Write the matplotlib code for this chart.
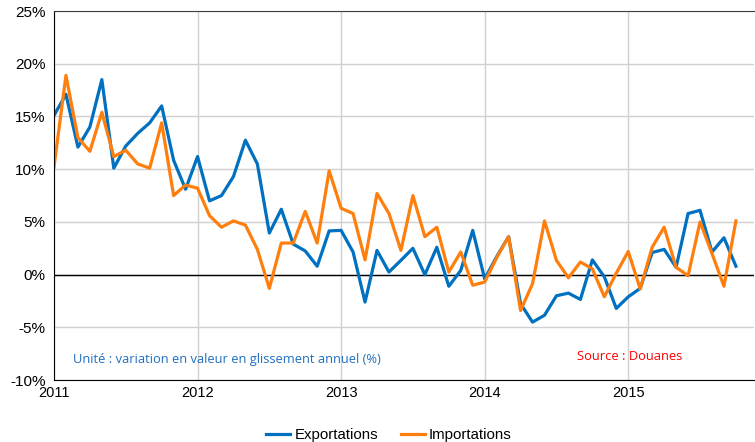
import matplotlib.pyplot as plt

# monthly, Jan 2011 -> Oct 2015, year-on-year change in %
exportations = [15.1, 17.1, 12.1, 14.0, 18.5, 10.1, 12.2, 13.4, 14.4, 16.0, 10.85, 8.1,
                11.2, 7.0, 7.5, 9.3, 12.75, 10.5, 3.95, 6.2, 2.9, 2.25, 0.8, 4.15,
                4.2, 2.15, -2.6, 2.3, 0.25, 1.36, 2.5, 0.0, 2.6, -1.1, 0.4, 4.2,
                -0.4, 1.7, 3.6, -2.75, -4.5, -3.85, -2.0, -1.75, -2.35, 1.4, -0.2, -3.2,
                -2.1, -1.3, 2.1, 2.4, 0.7, 5.8, 6.1, 2.15, 3.5, 0.8]
importations = [10.2, 18.9, 13.0, 11.7, 15.4, 11.2, 11.8, 10.5, 10.1, 14.4, 7.5, 8.5,
                8.2, 5.6, 4.5, 5.1, 4.7, 2.4, -1.3, 3.0, 3.0, 6.0, 3.0, 9.85,
                6.3, 5.8, 1.4, 7.7, 5.8, 2.3, 7.5, 3.6, 4.5, 0.25, 2.15, -1.0,
                -0.7, 1.6, 3.6, -3.4, -0.85, 5.1, 1.35, -0.3, 1.2, 0.55, -2.1, 0.15,
                2.2, -1.35, 2.6, 4.5, 0.7, -0.1, 5.0, 2.0, -1.1, 5.1]
years = [2011, 2012, 2013, 2014, 2015]
yticks = [-10, -5, 0, 5, 10, 15, 20, 25]

x = [2011 + i / 12 for i in range(len(exportations))]

plt.rcParams['font.family'] = ['Liberation Sans', 'DejaVu Sans']
fig = plt.figure(figsize=(7.55, 4.42), dpi=100)
ax = fig.add_axes([0.0715, 0.14, 0.927, 0.835])

ax.plot(x, exportations, color='#0070C0', linewidth=2.3, label='Exportations')
ax.plot(x, importations, color='#FF7F0E', linewidth=2.3, label='Importations')

ax.set_xlim(2011, 2011 + 58.5 / 12)
ax.set_ylim(-10, 25)
ax.set_xticks(years)
ax.set_xticklabels([str(y) for y in years], fontsize=10.5)
ax.set_yticks(yticks)
ax.set_yticklabels([str(t) + '%' for t in yticks], fontsize=11)
ax.tick_params(length=0, pad=6)
ax.tick_params(axis='x', pad=4)
ax.grid(True, color='#D0D0D0', linewidth=1.0)
ax.set_axisbelow(True)
ax.axhline(0, color='black', linewidth=1.0, zorder=1.5)

ax.spines['right'].set_visible(False)
ax.spines['top'].set_color('#404040')
ax.spines['top'].set_linewidth(0.8)
ax.spines['left'].set_color('black')
ax.spines['bottom'].set_color('black')

ax.text(2011.13, -8.35, 'Unité : variation en valeur en glissement annuel (%)',
        color='#1F6FC0', fontsize=9.3, family=['Open Sans', 'DejaVu Sans'])
ax.text(2014.64, -8.1, 'Source : Douanes', color='#FF0000', fontsize=9.3,
        family=['Open Sans', 'DejaVu Sans'])

fig.legend(loc='lower center', bbox_to_anchor=(0.515, -0.03), ncol=2, frameon=False,
           fontsize=10.8, handlelength=1.6, handletextpad=0.3, columnspacing=1.5)

fig.savefig('out.png', dpi=100)
